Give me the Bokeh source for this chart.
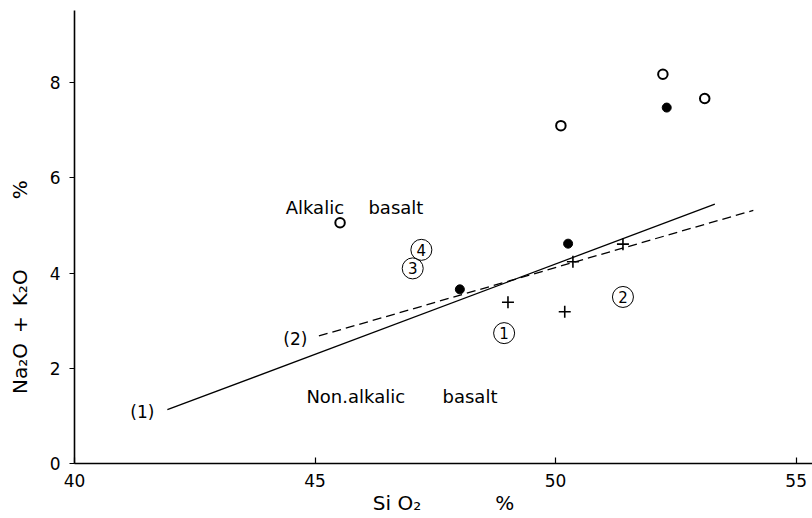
from bokeh.plotting import figure
from bokeh.models import Range1d, FixedTicker, Label, ColumnDataSource
from bokeh.embed import file_html
from bokeh.resources import INLINE
from bokeh.core.properties import value

# ---- data ----
open_x = [45.52, 50.11, 52.23, 53.10]
open_y = [5.06, 7.10, 8.18, 7.67]
filled_x = [48.01, 50.26, 52.31]
filled_y = [3.66, 4.62, 7.48]
plus_x = [49.01, 50.19, 50.36, 51.40]
plus_y = [3.39, 3.19, 4.24, 4.61]
site_labels = ["1", "2", "3", "4"]
site_x = [48.93, 51.40, 47.03, 47.21]
site_y = [2.74, 3.50, 4.10, 4.49]
line1_x = [41.93, 53.31]
line1_y = [1.13, 5.45]
line2_x = [45.08, 54.11]
line2_y = [2.68, 5.32]
x_ticks = [40, 45, 50, 55]
y_ticks = [0, 2, 4, 6, 8]

FONT = "DejaVu Sans"
EM = "\u2003"
EN = "\u2002"
THIN = "\u2009"

p = figure(width=812, height=518,
           x_range=Range1d(40, 55.34), y_range=Range1d(0, 9.52),
           output_backend="svg", toolbar_location=None,
           min_border_left=74, min_border_right=0,
           min_border_top=10, min_border_bottom=55)
p.xgrid.visible = False
p.ygrid.visible = False
p.outline_line_color = None
p.background_fill_color = "white"
p.border_fill_color = "white"

for ax in (p.xaxis, p.yaxis):
    ax.axis_line_width = 1.6
    ax.axis_line_color = "black"
    ax.major_tick_line_color = "black"
    ax.major_tick_line_width = 1.2
    ax.minor_tick_line_color = None
    ax.major_label_text_font = FONT
    ax.major_label_text_font_size = "17px"
    ax.major_label_text_color = "black"
    ax.axis_label_text_font = FONT
    ax.axis_label_text_font_size = "20px"
    ax.axis_label_text_font_style = "normal"
    ax.axis_label_text_color = "black"

p.xaxis.ticker = FixedTicker(ticks=x_ticks)
p.xaxis.major_tick_in = 6
p.xaxis.major_tick_out = 0
p.xaxis.major_label_standoff = 10
p.xaxis.axis_label = "Si O\u2082" + EM * 3 + EN + THIN + "%"
p.xaxis.axis_label_standoff = 1

p.yaxis.ticker = FixedTicker(ticks=y_ticks)
p.yaxis.major_tick_in = 0
p.yaxis.major_tick_out = 5
p.yaxis.major_label_standoff = 9
p.yaxis.axis_label = ("Na\u2082O" + EN + "+" + EN + "K\u2082O"
                      + EM * 3 + EN + "%" + EM * 4 + EN + THIN + "\u00a0")
p.yaxis.axis_label_standoff = 15

# dividing lines
p.line(line1_x, line1_y, line_color="black", line_width=1.3)
p.line(line2_x, line2_y, line_color="black", line_width=1.3, line_dash="9 5")

# points
p.scatter(open_x, open_y, marker="circle", size=9.5, fill_color=None,
          line_color="black", line_width=2)
p.scatter(filled_x, filled_y, marker="circle", size=9, fill_color="black",
          line_color="black", line_width=1)
p.scatter(plus_x, plus_y, marker="cross", size=12, line_color="black",
          line_width=1.6)

# circled site numbers
src = ColumnDataSource(dict(x=site_x, y=site_y, t=site_labels))
p.scatter("x", "y", source=src, marker="circle", size=21, fill_color=None,
          line_color="black", line_width=1)
p.text("x", "y", text="t", source=src, text_align="center",
       text_baseline="middle", text_font=value(FONT),
       text_font_size="15px", text_color="black")

def lab(x, y, t, size="18px", align="left"):
    p.add_layout(Label(x=x, y=y, text=t, text_align=align,
                       text_baseline="middle", text_font=FONT,
                       text_font_size=size, text_color="black"))

# region names
lab(44.39, 5.38, "Alkalic")
lab(46.11, 5.38, "basalt")
lab(44.82, 1.40, "Non.alkalic")
lab(47.65, 1.40, "basalt")
# line labels
lab(41.41, 1.09, "(1)", size="17px", align="center")
lab(44.59, 2.61, "(2)", size="17px", align="center")

open("out.html", "w").write(file_html(p, INLINE))
